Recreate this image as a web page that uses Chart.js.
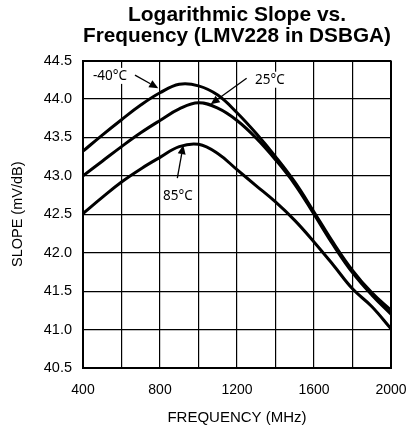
<!DOCTYPE html>
<html>
<head>
<meta charset="utf-8">
<script src="https://cdn.jsdelivr.net/npm/chart.js@4.4.1/dist/chart.umd.min.js"></script>
<style>
  html, body { margin: 0; padding: 0; background: #fff; }
  #wrap { width: 409px; height: 426px; }
</style>
</head>
<body>
<div id="wrap"><canvas id="c" width="409" height="426"></canvas></div>
<script>
// ---- data ----
const frequencies = [400, 500, 600, 700, 800, 900, 1000, 1100, 1200, 1300, 1400, 1500, 1600, 1700, 1800, 1900, 2000];
const slopeMinus40 = [43.32, 43.53, 43.73, 43.92, 44.08, 44.19, 44.17, 44.05, 43.82, 43.55, 43.25, 42.92, 42.53, 42.13, 41.77, 41.48, 41.25];
const slope25      = [43.00, 43.19, 43.38, 43.56, 43.72, 43.87, 43.95, 43.88, 43.72, 43.49, 43.21, 42.89, 42.50, 42.10, 41.74, 41.45, 41.20];
const slope85      = [42.51, 42.72, 42.92, 43.09, 43.24, 43.38, 43.41, 43.29, 43.08, 42.87, 42.66, 42.42, 42.14, 41.84, 41.53, 41.30, 41.01];
const xTickLabels = [400, 800, 1200, 1600, 2000];
const seriesNames = ['-40°C', '25°C', '85°C'];
const titleLines = ['Logarithmic Slope vs.', 'Frequency (LMV228 in DSBGA)'];

// annotation anchors in data units: label position, arrow start, arrow tip
const labelFreq  = [540, 1371, 893];
const labelSlope = [44.30, 44.25, 42.74];
const arrowFromFreq  = [670, 1250, 890];
const arrowFromSlope = [44.31, 44.27, 42.97];
const arrowToFreq  = [791, 1063, 921];
const arrowToSlope = [44.14, 43.93, 43.40];

function toPoints(ys) { return frequencies.map((f, i) => ({ x: f, y: ys[i] })); }

const annotationPlugin = {
  id: 'tempLabels',
  afterDatasetsDraw(chart) {
    const { ctx, scales: { x, y } } = chart;
    ctx.save();
    ctx.fillStyle = '#000';
    ctx.strokeStyle = '#000';
    ctx.font = '13.5px "Noto Sans"';
    ctx.textAlign = 'center';
    ctx.textBaseline = 'middle';
    for (let i = 0; i < seriesNames.length; i++) {
      const lx = x.getPixelForValue(labelFreq[i]);
      const ly = y.getPixelForValue(labelSlope[i]);
      const w = ctx.measureText(seriesNames[i]).width;
      ctx.fillStyle = '#fff';
      ctx.fillRect(lx - w / 2 - 2, ly - 8, w + 4, 16);
      ctx.fillStyle = '#000';
      ctx.fillText(seriesNames[i], lx, ly);
      const x0 = x.getPixelForValue(arrowFromFreq[i]);
      const y0 = y.getPixelForValue(arrowFromSlope[i]);
      const x1 = x.getPixelForValue(arrowToFreq[i]);
      const y1 = y.getPixelForValue(arrowToSlope[i]);
      const ang = Math.atan2(y1 - y0, x1 - x0);
      const headLen = 9, headW = 4;
      const bx = x1 - headLen * Math.cos(ang), by = y1 - headLen * Math.sin(ang);
      ctx.lineWidth = 1.3;
      ctx.beginPath();
      ctx.moveTo(x0, y0);
      ctx.lineTo(bx, by);
      ctx.stroke();
      ctx.beginPath();
      ctx.moveTo(x1, y1);
      ctx.lineTo(bx + headW * Math.sin(ang), by - headW * Math.cos(ang));
      ctx.lineTo(bx - headW * Math.sin(ang), by + headW * Math.cos(ang));
      ctx.closePath();
      ctx.fill();
    }
    ctx.restore();
  }
};

const lineStyle = {
  borderColor: '#000',
  borderWidth: 3,
  pointRadius: 0,
  fill: false,
  tension: 0.4
};

const FONT = '"Liberation Sans", Arial, sans-serif';

new Chart(document.getElementById('c'), {
  type: 'line',
  data: {
    datasets: [
      Object.assign({ label: seriesNames[0], data: toPoints(slopeMinus40) }, lineStyle),
      Object.assign({ label: seriesNames[1], data: toPoints(slope25) }, lineStyle),
      Object.assign({ label: seriesNames[2], data: toPoints(slope85) }, lineStyle)
    ]
  },
  options: {
    responsive: false,
    animation: false,
    devicePixelRatio: 1,
    layout: { padding: { left: 0, right: 18, top: 0, bottom: 0 } },
    plugins: {
      legend: { display: false },
      tooltip: { enabled: false },
      title: {
        display: true,
        text: titleLines,
        color: '#000',
        fullSize: false,
        font: { family: FONT, size: 21, weight: 'bold', lineHeight: 1.0 },
        padding: { top: 5, bottom: 13.5 }
      }
    },
    scales: {
      x: {
        type: 'linear',
        min: 400,
        max: 2000,
        afterFit(scale) {
          scale.height = 58;
          scale.paddingLeft = 0;
          scale.paddingRight = 0;
        },
        ticks: {
          stepSize: 200,
          autoSkip: false,
          maxRotation: 0,
          padding: 14,
          color: '#000',
          font: { family: FONT, size: 14 },
          callback: (v) => xTickLabels.includes(v) ? String(v) : ''
        },
        grid: {
          color: '#000',
          drawTicks: false,
          lineWidth: (c) => (c.index === 0 || c.index === 8) ? 2 : 1.2
        },
        border: { color: '#000', width: 2 },
        title: {
          display: true,
          text: 'FREQUENCY (MHz)',
          color: '#000',
          font: { family: FONT, size: 15, lineHeight: 1 },
          padding: { top: 0, bottom: 0.5 }
        }
      },
      y: {
        type: 'linear',
        min: 40.5,
        max: 44.5,
        afterFit(scale) {
          scale.width = 83;
          scale.paddingTop = 0;
          scale.paddingBottom = 0;
        },
        ticks: {
          stepSize: 0.5,
          padding: 11,
          color: '#000',
          font: { family: FONT, size: 14.5 },
          callback: (v) => Number(v).toFixed(1)
        },
        grid: {
          color: '#000',
          drawTicks: false,
          lineWidth: (c) => (c.index === 0 || c.index === 8) ? 2 : 1.2
        },
        border: { color: '#000', width: 2 },
        title: {
          display: true,
          text: 'SLOPE (mV/dB)',
          color: '#000',
          font: { family: FONT, size: 14.5 },
          padding: { top: 9, bottom: 0 }
        }
      }
    }
  },
  plugins: [annotationPlugin]
});
</script>
</body>
</html>
